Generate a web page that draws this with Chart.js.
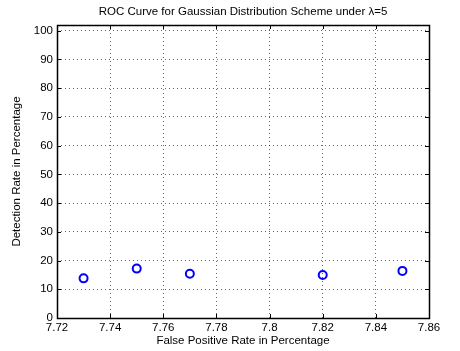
<!DOCTYPE html>
<html>
<head>
<meta charset="utf-8">
<script src="https://cdn.jsdelivr.net/npm/chart.js@4"></script>
<style>
  html, body { margin: 0; padding: 0; background: #fff; }
  #wrap { width: 460px; height: 351px; }
</style>
</head>
<body>
<div id="wrap"><canvas id="c" width="460" height="351"></canvas></div>
<script>
// ROC points: false positive rate (%) vs detection rate (%)
const falsePositiveRate = [7.73, 7.75, 7.77, 7.82, 7.85];
const detectionRate = [13.8, 17.2, 15.4, 15.0, 16.4];
const xTicks = [7.72, 7.74, 7.76, 7.78, 7.80, 7.82, 7.84, 7.86];
const yTicks = [0, 10, 20, 30, 40, 50, 60, 70, 80, 90, 100];
const chartTitle = 'ROC Curve for Gaussian Distribution Scheme under \u03bb=5';

const FONT = "'Liberation Sans', Arial, Helvetica, sans-serif";
const FS = 11.5;

// Black axes box with inward tick marks on all four sides, plus the title
const boxPlugin = {
  id: 'boxTicks',
  afterDraw(chart) {
    const { ctx, chartArea: a, scales } = chart;
    ctx.save();
    ctx.strokeStyle = '#000';
    ctx.lineWidth = 1;
    ctx.beginPath();
    const len = 4;
    xTicks.forEach(v => {
      const px = Math.round(scales.x.getPixelForValue(v)) + 0.5;
      ctx.moveTo(px, a.bottom); ctx.lineTo(px, a.bottom - len);
      ctx.moveTo(px, a.top); ctx.lineTo(px, a.top + len);
    });
    yTicks.forEach(v => {
      const py = Math.round(scales.y.getPixelForValue(v)) + 0.5;
      ctx.moveTo(a.left, py); ctx.lineTo(a.left + len, py);
      ctx.moveTo(a.right, py); ctx.lineTo(a.right - len, py);
    });
    ctx.stroke();
    ctx.lineWidth = 1.5;
    ctx.strokeRect(Math.round(a.left) + 0.5, Math.round(a.top) + 0.5,
      Math.round(a.right - a.left), Math.round(a.bottom - a.top));

    ctx.fillStyle = '#000';
    ctx.font = FS + 'px ' + FONT;
    ctx.textAlign = 'center';
    ctx.textBaseline = 'middle';
    ctx.fillText(chartTitle, (a.left + a.right) / 2, 12);
    ctx.restore();
  }
};

new Chart(document.getElementById('c'), {
  type: 'scatter',
  data: {
    datasets: [{
      data: falsePositiveRate.map((x, i) => ({ x, y: detectionRate[i] })),
      showLine: false,
      pointStyle: 'circle',
      pointRadius: 4,
      pointHoverRadius: 4,
      pointBorderWidth: 2,
      borderColor: '#0000ff',
      backgroundColor: 'rgba(0,0,0,0)'
    }]
  },
  options: {
    responsive: false,
    animation: false,
    events: [],
    layout: { padding: { left: 0, right: 31, top: 25, bottom: 0 } },
    plugins: {
      legend: { display: false },
      tooltip: { enabled: false },
      title: { display: false }
    },
    scales: {
      x: {
        type: 'linear',
        min: 7.72,
        max: 7.86,
        afterBuildTicks(scale) { scale.ticks = xTicks.map(v => ({ value: v })); },
        afterFit(scale) { scale.height = 33; },
        ticks: {
          autoSkip: false,
          maxRotation: 0,
          padding: 3,
          color: '#000',
          font: { family: FONT, size: FS },
          callback: v => String(Number(v.toFixed(2)))
        },
        grid: {
          drawTicks: false,
          color: 'rgba(0,0,0,0.6)',
          lineWidth: 1
        },
        border: { display: false, dash: [1, 3] },
        title: {
          display: true,
          text: 'False Positive Rate in Percentage',
          color: '#000',
          font: { family: FONT, size: FS },
          padding: { top: 3, bottom: 3 }
        }
      },
      y: {
        type: 'linear',
        min: 0,
        max: 102,
        afterBuildTicks(scale) { scale.ticks = yTicks.map(v => ({ value: v })); },
        afterFit(scale) { scale.width = 57; },
        ticks: {
          padding: 4,
          color: '#000',
          font: { family: FONT, size: FS }
        },
        grid: {
          drawTicks: false,
          color: 'rgba(0,0,0,0.6)',
          lineWidth: 1
        },
        border: { display: false, dash: [1, 3] },
        title: {
          display: true,
          text: 'Detection Rate in Percentage',
          color: '#000',
          font: { family: FONT, size: FS },
          padding: { top: 10, bottom: 10 }
        }
      }
    }
  },
  plugins: [boxPlugin]
});
</script>
</body>
</html>
